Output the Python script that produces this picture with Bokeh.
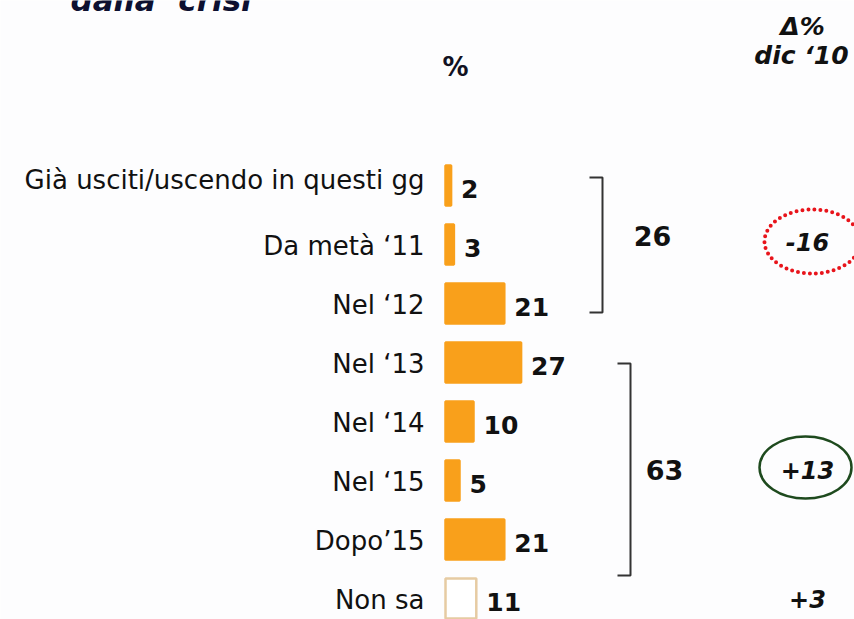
from bokeh.plotting import figure
from bokeh.models import Range1d, ColumnDataSource
from bokeh.core.properties import value
from bokeh.embed import file_html
from bokeh.resources import INLINE

# ---- data ----
categories = ["Già usciti/uscendo in questi gg", "Da metà ‘11", "Nel ‘12", "Nel ‘13",
              "Nel ‘14", "Nel ‘15", "Dopo’15", "Non sa"]
values = [2, 3, 21, 27, 10, 5, 21, 11]
group_totals = ["26", "63"]
group_deltas = ["-16", "+13"]
nonsa_delta = "+3"
title_text = "dalla ‘crisi’"
pct_label = "%"
delta_header = ["Δ%", "dic ‘10"]

# ---- geometry helpers (screen px -> data) ----
W, H = 854, 619
X0, PX = 445.0, 2.8     # screen x of value 0, px per percentage point
Y0, PY = 185.0, 59.0    # screen y of first row, px per row


def fx(s):
    return (s - X0) / PX


def fy(s):
    return (s - Y0) / PY


p = figure(width=W, height=H, output_backend="svg", toolbar_location=None,
           x_range=Range1d(fx(0), fx(W)), y_range=Range1d(fy(H), fy(0)),
           min_border=0)
p.axis.visible = False
p.xgrid.visible = False
p.ygrid.visible = False
p.outline_line_color = None
p.background_fill_color = "#fdfdfe"
p.border_fill_color = "#fdfdfe"

rows = list(range(len(categories)))
orange = "#F9A01B"
fills = [orange] * (len(values) - 1) + ["#FFFFFF"]
lines = [orange] * (len(values) - 1) + ["#E6CBA3"]
label_dy = [-6] + [1] * (len(values) - 1)
src = ColumnDataSource(dict(cat=categories, v=values, y=rows, fill=fills, line=lines,
                            lbl=[str(v) for v in values], dy=label_dy))

p.hbar(y="y", left=0, right="v", height=0.68, fill_color="fill", line_color="line",
       line_width=2.5, source=src)

# category labels
p.text(x=0, y="y", text="cat", source=src, x_offset=-21, y_offset="dy",
       text_align="right", text_baseline="middle", text_font=value("DejaVu Sans"),
       text_font_size="26px", text_color="#111111")

# value labels
p.text(x="v", y="y", text="lbl", source=src, x_offset=10, y_offset=3,
       text_align="left", text_baseline="middle", text_font=value("DejaVu Sans"),
       text_font_style="bold", text_font_size="25px", text_color="#111111")

# brackets
br_x = [602, 630]
br_top = [177, 363]
br_bot = [312, 575]
for k in range(2):
    xs = [fx(br_x[k] - 13), fx(br_x[k]), fx(br_x[k]), fx(br_x[k] - 13)]
    ys = [fy(br_top[k]), fy(br_top[k]), fy(br_bot[k]), fy(br_bot[k])]
    p.line(xs, ys, line_color="#333333", line_width=2)

# group totals
tot_x = [fx(652), fx(664)]
tot_y = [fy(235), fy(469)]
p.text(x=tot_x, y=tot_y, text=group_totals, text_align="center", text_baseline="middle",
       text_font=value("DejaVu Sans"), text_font_style="bold", text_font_size="27px",
       text_color="#111111")

# deltas
dx = fx(807)
d_y = [fy(241), fy(469), fy(598)]
p.text(x=[dx, dx, dx], y=d_y, text=group_deltas + [nonsa_delta], text_align="center",
       text_baseline="middle", text_font=value("DejaVu Sans"),
       text_font_style="bold italic", text_font_size="24px", text_color="#111111")

# ellipses
p.ellipse(x=[fx(812)], y=[fy(241)], width=96, height=64, width_units="screen",
          height_units="screen", fill_color=None, line_color="#E8141B", line_width=4,
          line_dash="0 6", line_cap="round")
p.ellipse(x=[fx(805)], y=[fy(467)], width=92, height=62, width_units="screen",
          height_units="screen", fill_color=None, line_color="#1E4A1E", line_width=2.5)

# headers
p.text(x=[fx(802), fx(801)], y=[fy(26), fy(55)], text=delta_header, text_align="center",
       text_baseline="middle", text_font=value("DejaVu Sans"),
       text_font_style="bold italic", text_font_size="25px", text_color="#111111")
p.text(x=[fx(455)], y=[fy(66)], text=[pct_label], text_align="center",
       text_baseline="middle", text_font=value("DejaVu Sans"), text_font_style="bold",
       text_font_size="26px", text_color="#111122")
p.text(x=[fx(70)], y=[fy(-1)], text=[title_text], text_align="left",
       text_baseline="middle", text_font=value("DejaVu Sans"),
       text_font_style="bold italic", text_font_size="31px", text_color="#0D1030")

open("out.html", "w").write(file_html(p, INLINE))
